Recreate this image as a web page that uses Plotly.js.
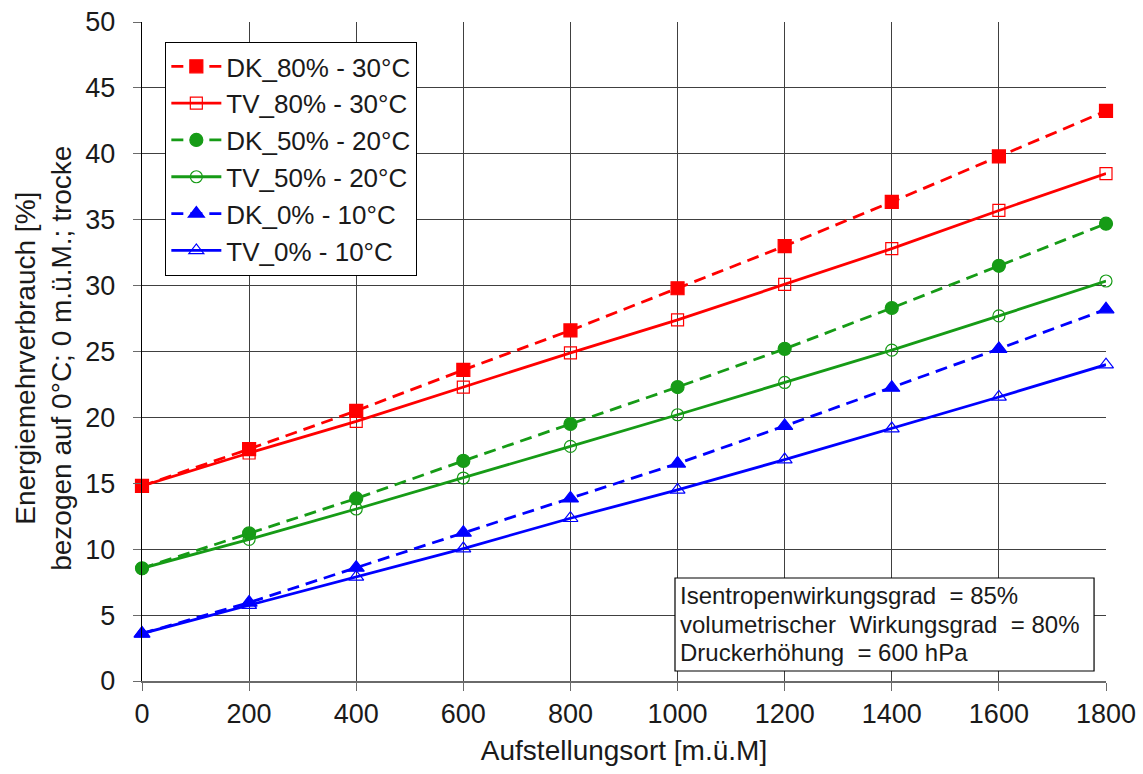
<!DOCTYPE html>
<html>
<head>
<meta charset="utf-8">
<script src="https://cdn.plot.ly/plotly-3.0.1.min.js"></script>
<style>html,body{margin:0;padding:0;background:#fff;}#chart{width:1143px;height:774px;}</style>
</head>
<body>
<div id="chart"></div>
<script>
var altitude = [0, 200, 400, 600, 800, 1000, 1200, 1400, 1600, 1800];
var dk80 = [14.8, 17.6, 20.5, 23.6, 26.6, 29.8, 33.0, 36.35, 39.8, 43.25];
var tv80 = [14.8, 17.3, 19.7, 22.3, 24.9, 27.4, 30.1, 32.8, 35.7, 38.5];
var dk50 = [8.55, 11.2, 13.85, 16.7, 19.5, 22.3, 25.2, 28.3, 31.5, 34.7];
var tv50 = [8.55, 10.75, 13.05, 15.4, 17.8, 20.2, 22.65, 25.1, 27.7, 30.35];
var dk0 = [3.6, 5.95, 8.6, 11.25, 13.85, 16.5, 19.35, 22.25, 25.2, 28.2];
var tv0 = [3.6, 5.75, 7.9, 10.05, 12.35, 14.5, 16.8, 19.15, 21.55, 24.0];
var seriesNames = ["DK_80% - 30°C", "TV_80% - 30°C", "DK_50% - 20°C", "TV_50% - 20°C", "DK_0% - 10°C", "TV_0% - 10°C"];
var xTitle = "Aufstellungsort [m.ü.M]";
var yTitle = "Energiemehrverbrauch [%]<br>bezogen auf 0°C; 0 m.ü.M.; trocke";
var noteLines = ["Isentropenwirkungsgrad  = 85%", "volumetrischer  Wirkungsgrad  = 80%", "Druckerhöhung  = 600 hPa"];

var RED = "#ff0000", GREEN = "#169b16", BLUE = "#0000ff";
var DASH = "12px,7px";
var FONT = "Arial, 'Liberation Sans', sans-serif";

function tr(y, name, color, dash, symbol, size, mlinecolor) {
  return {
    x: altitude, y: y, name: name, type: "scatter", mode: "lines+markers",
    cliponaxis: false,
    line: {color: color, width: 2.8, dash: dash},
    marker: {symbol: symbol, size: size, color: color,
             line: {color: mlinecolor, width: 1.2}}
  };
}

var data = [
  tr(dk80, seriesNames[0], RED, DASH, "square", 13, RED),
  tr(tv80, seriesNames[1], RED, "solid", "square-open", 12, "#a83232"),
  tr(dk50, seriesNames[2], GREEN, DASH, "circle", 13, GREEN),
  tr(tv50, seriesNames[3], GREEN, "solid", "circle-open", 12, "#6f8f6f"),
  tr(dk0, seriesNames[4], BLUE, DASH, "triangle-up", 14, BLUE),
  tr(tv0, seriesNames[5], BLUE, "solid", "triangle-up-open", 13, "#5050a8")
];

var noteY = [0.129, 0.085, 0.043];
var annotations = [
  {
    xref: "paper", yref: "paper", x: -0.103, y: 0.49,
    xanchor: "center", yanchor: "middle", textangle: -90,
    text: yTitle, showarrow: false, align: "center",
    font: {family: FONT, size: 28, color: "#1a1a1a"}
  }
];
noteLines.forEach(function (t, i) {
  annotations.push({
    xref: "paper", yref: "paper", x: 0.556, y: noteY[i],
    xanchor: "left", yanchor: "middle",
    text: t, showarrow: false, align: "left",
    font: {family: FONT, size: 24, color: "#1a1a1a"}
  });
});

var layout = {
  width: 1143, height: 774,
  margin: {l: 142, r: 37, t: 22, b: 93},
  paper_bgcolor: "#fff", plot_bgcolor: "#fff",
  font: {family: FONT, color: "#1a1a1a", size: 27},
  showlegend: true,
  legend: {
    x: 0.024, y: 0.97, xanchor: "left", yanchor: "top",
    bgcolor: "#fff", bordercolor: "#000", borderwidth: 1.2,
    font: {family: FONT, size: 26, color: "#1a1a1a"},
    itemwidth: 50,
    tracegroupgap: 0
  },
  xaxis: {
    range: [0, 1800], dtick: 200, tick0: 0,
    showgrid: true, gridcolor: "#404040", gridwidth: 1,
    zeroline: false, showline: true, linecolor: "#6a6a6a", linewidth: 1.5,
    ticks: "outside", ticklen: 8, tickcolor: "#6a6a6a",
    tickfont: {family: FONT, size: 27, color: "#1a1a1a"},
    title: {text: xTitle, font: {family: FONT, size: 28, color: "#1a1a1a"}, standoff: 12}
  },
  yaxis: {
    range: [0, 50], dtick: 5, tick0: 0,
    showgrid: true, gridcolor: "#404040", gridwidth: 1,
    zeroline: false, showline: true, linecolor: "#000", linewidth: 1.2,
    ticks: "outside", ticklen: 8, tickcolor: "#6a6a6a",
    ticklabelstandoff: 12,
    tickfont: {family: FONT, size: 27, color: "#1a1a1a"}
  },
  shapes: [
    {type: "rect", xref: "paper", yref: "paper", x0: 0.5529, x1: 0.9876, y0: 0.0152, y1: 0.1563,
     fillcolor: "#fff", line: {color: "#000", width: 1.2}, layer: "above"}
  ],
  annotations: annotations
};

Plotly.newPlot("chart", data, layout, {displayModeBar: false, staticPlot: true});
</script>
</body>
</html>
